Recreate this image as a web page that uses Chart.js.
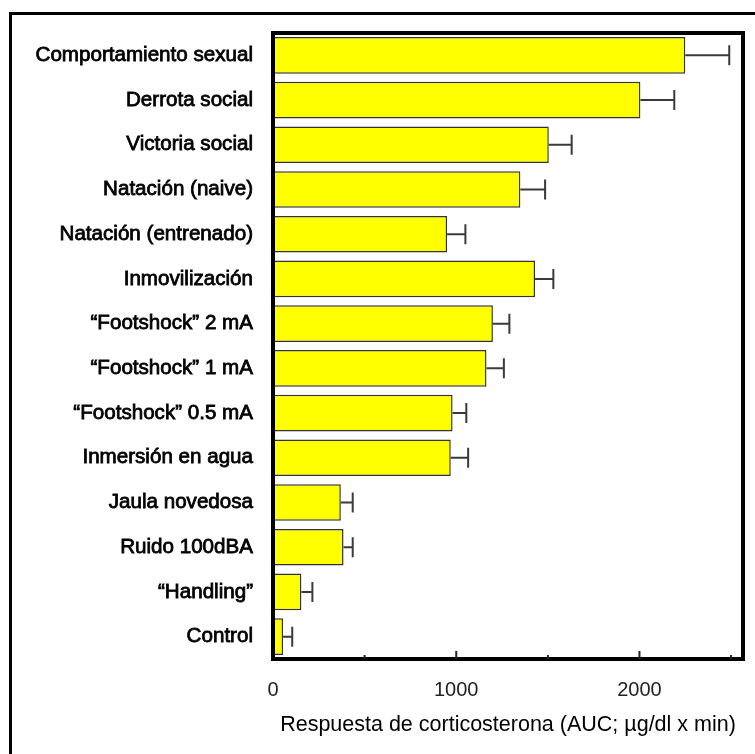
<!DOCTYPE html>
<html>
<head>
<meta charset="utf-8">
<script src="https://cdn.jsdelivr.net/npm/chart.js@4.4.0/dist/chart.umd.min.js"></script>
<style>
  html, body { margin: 0; padding: 0; background: #fff; }
  canvas { display: block; }
</style>
</head>
<body>
<canvas id="chart" width="755" height="754"></canvas>
<script>
// Corticosterone response per stressor (AUC; µg/dl x min), mean and SEM
const categories = [
  'Comportamiento sexual',
  'Derrota social',
  'Victoria social',
  'Natación (naive)',
  'Natación (entrenado)',
  'Inmovilización',
  '\u201CFootshock\u201D 2 mA',
  '\u201CFootshock\u201D 1 mA',
  '\u201CFootshock\u201D 0.5 mA',
  'Inmersión en agua',
  'Jaula novedosa',
  'Ruido 100dBA',
  '\u201CHandling\u201D',
  'Control'
];
const meanValues = [2250, 2005, 1505, 1350, 950, 1430, 1200, 1165, 980, 970, 370, 385, 155, 55];
const semValues  = [240, 185, 125, 135, 100, 100, 90, 95, 75, 95, 65, 50, 60, 50];
const majorTicks = [0, 1000, 2000];
const minorTicks = [500, 1500, 2500];
const axisMax = 2565;
const axisTitle = 'Respuesta de corticosterona (AUC; µg/dl x min)';

const FONT = "'Liberation Sans', Arial, sans-serif";

// Error whiskers on the positive side of each bar
const errorBars = {
  id: 'errorBars',
  afterDatasetsDraw(chart) {
    const ctx = chart.ctx;
    const xs = chart.scales.x;
    const meta = chart.getDatasetMeta(0);
    ctx.save();
    ctx.strokeStyle = '#3a3a3a';
    ctx.lineWidth = 2;
    meta.data.forEach((bar, i) => {
      const x0 = xs.getPixelForValue(meanValues[i]);
      const x1 = xs.getPixelForValue(meanValues[i] + semValues[i]);
      const y = bar.y;
      ctx.beginPath();
      ctx.moveTo(x0, y);
      ctx.lineTo(x1, y);
      ctx.moveTo(x1, y - 10);
      ctx.lineTo(x1, y + 10);
      ctx.stroke();
    });
    ctx.restore();
  }
};

// Heavy plot frame, inward ticks and the outer figure frame
const frame = {
  id: 'frame',
  afterDraw(chart) {
    const ctx = chart.ctx;
    const a = chart.chartArea;
    const xs = chart.scales.x;
    ctx.save();
    ctx.strokeStyle = '#000';
    ctx.lineWidth = 4;
    ctx.lineJoin = 'miter';
    ctx.strokeRect(a.left, a.top, a.right - a.left, a.bottom - a.top);

    ctx.lineWidth = 2;
    ctx.strokeStyle = '#222';
    majorTicks.forEach(v => {
      if (v === 0) return;
      const x = xs.getPixelForValue(v);
      ctx.beginPath();
      ctx.moveTo(x, a.bottom);
      ctx.lineTo(x, a.bottom - 8);
      ctx.stroke();
    });
    minorTicks.forEach(v => {
      const x = xs.getPixelForValue(v);
      ctx.beginPath();
      ctx.moveTo(x, a.bottom);
      ctx.lineTo(x, a.bottom - 4);
      ctx.stroke();
    });

    ctx.strokeStyle = '#000';
    ctx.lineWidth = 3;
    ctx.beginPath();
    ctx.moveTo(10.5, 760);
    ctx.lineTo(10.5, 13.5);
    ctx.lineTo(760, 13.5);
    ctx.stroke();
    ctx.restore();
  }
};

new Chart(document.getElementById('chart'), {
  type: 'bar',
  data: {
    labels: categories,
    datasets: [{
      data: meanValues,
      backgroundColor: '#ffff00',
      borderColor: '#333333',
      borderWidth: 1.5,
      borderSkipped: false,
      categoryPercentage: 1,
      barPercentage: 0.82
    }]
  },
  options: {
    indexAxis: 'y',
    responsive: false,
    animation: false,
    devicePixelRatio: 1,
    layout: { padding: { left: 0, top: 33, right: 12, bottom: 0 } },
    plugins: {
      legend: { display: false },
      tooltip: { enabled: false }
    },
    scales: {
      x: {
        min: 0,
        max: axisMax,
        grid: { display: false, drawTicks: false },
        border: { display: false },
        afterBuildTicks(scale) {
          scale.ticks = majorTicks.map(v => ({ value: v }));
        },
        afterFit(scale) { scale.height = 95; },
        ticks: {
          padding: 19,
          color: '#222',
          font: { family: FONT, size: 20 },
          callback: (v) => String(v)
        },
        title: {
          display: true,
          text: axisTitle,
          color: '#000',
          font: { family: FONT, size: 21.5 },
          padding: { top: 0, bottom: 16 }
        }
      },
      y: {
        grid: { display: false, drawTicks: false },
        border: { display: false },
        afterFit(scale) { scale.width = 273; },
        ticks: {
          padding: 20,
          color: '#000',
          textStrokeColor: '#000',
          textStrokeWidth: 0.8,
          font: { family: FONT, size: 20.6 }
        }
      }
    }
  },
  plugins: [errorBars, frame]
});
</script>
</body>
</html>
